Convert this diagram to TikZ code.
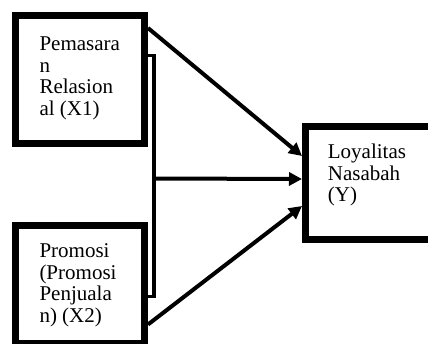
\documentclass[tikz,border=0pt]{standalone}
\usepackage{fontspec}
\setmainfont{Liberation Serif}
\usetikzlibrary{arrows.meta,calc}
\newcommand{\lblfont}{\fontsize{21pt}{21.5pt}\selectfont}
\begin{document}
\begin{tikzpicture}[x=1pt,y=-1pt,
  box/.style={draw=black,line width=7pt,inner sep=0pt,fill=white},
  lbl/.style={inner sep=0pt,anchor=base west,align=left,font=\lblfont},
  arr/.style={line width=4pt,-{Triangle[length=13pt,width=13pt]}},
  brk/.style={line width=3.5pt}]
\useasboundingbox (0,0) rectangle (428,343);
\clip (0,0) rectangle (428,343);
\node[box,minimum width=129pt,minimum height=128pt] (x1) at (80,79.5) {};
\node[box,minimum width=129pt,minimum height=118.5pt] (x2) at (80,284.25) {};
\node[box,minimum width=139.5pt,minimum height=113pt] (y) at (375.25,183) {};
\node[lbl] (t1) at (39.3,115) {Pemasara\\n\\Relasion\\al (X1)};
\node[lbl] (t2) at (39.3,322) {Promosi\\(Promosi\\Penjuala\\n) (X2)};
\node[lbl] (t3) at (327.7,201.7) {Loyalitas\\Nasabah\\(Y)};
\coordinate (b1) at ($(x1.north east)+(0,43.5)$);
\coordinate (b2) at ($(x2.north east)+(0,75)$);
\coordinate (bm) at (154,178.5);
\draw[brk] (b1) -- ++(6,0) |- (b2);
\draw[arr] ($(x1.north east)+(0,16)$) -- ($(y.west)+(0,-27)$);
\draw[arr] (bm) -- ($(y.west)+(0,-4)$);
\draw[arr] ($(x2.north east)+(0,103)$) -- ($(y.west)+(0,23)$);
\end{tikzpicture}
\end{document}
